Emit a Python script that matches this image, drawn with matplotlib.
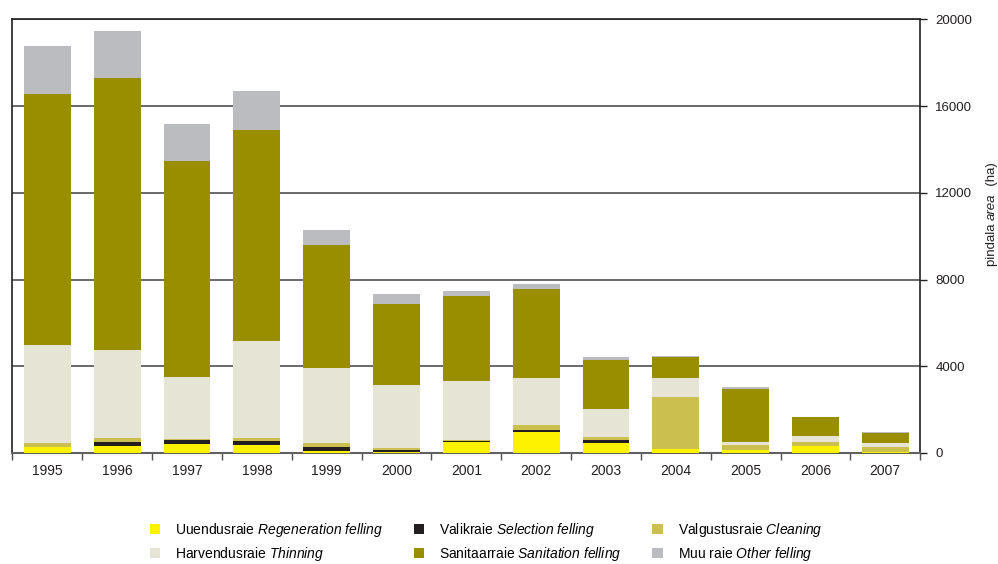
import matplotlib
matplotlib.use("Agg")
import matplotlib.pyplot as plt
from matplotlib.patches import Patch
import numpy as np

plt.rcParams["font.family"] = ["Liberation Sans", "DejaVu Sans"]
plt.rcParams["mathtext.fontset"] = "custom"
plt.rcParams["mathtext.rm"] = "Liberation Sans"
plt.rcParams["mathtext.it"] = "Liberation Sans:italic"

aastad = ["1995", "1996", "1997", "1998", "1999", "2000", "2001",
          "2002", "2003", "2004", "2005", "2006", "2007"]

# pindala (ha) raieliigi kaupa
uuendus = [250, 320, 400, 360, 80, 30, 520, 985, 460, 190, 140, 330, 30]
valik = [0, 190, 190, 185, 185, 90, 40, 90, 140, 0, 0, 0, 0]
valgustus = [200, 190, 50, 140, 185, 90, 40, 230, 125, 2400, 230, 190, 230]
harvendus = [4520, 4040, 2870, 4480, 3460, 2930, 2700, 2155, 1305, 870, 140, 260, 190]
sanitaar = [11580, 12550, 9955, 9725, 5680, 3720, 3930, 4095, 2250, 970, 2450, 880, 490]
muu = [2210, 2170, 1710, 1800, 690, 460, 230, 230, 140, 45, 90, 0, 45]

seeriad = [
    (uuendus, "#FFF200", "Uuendusraie $\\mathit{Regeneration\\ felling}$"),
    (valik, "#231F20", "Valikraie $\\mathit{Selection\\ felling}$"),
    (valgustus, "#CBBF4F", "Valgustusraie $\\mathit{Cleaning}$"),
    (harvendus, "#E6E4D5", "Harvendusraie $\\mathit{Thinning}$"),
    (sanitaar, "#998E00", "Sanitaarraie $\\mathit{Sanitation\\ felling}$"),
    (muu, "#BBBCC0", "Muu raie $\\mathit{Other\\ felling}$"),
]

fig = plt.figure(figsize=(9.98, 5.64), dpi=100)
ax = fig.add_axes([0.0125, 0.197, 0.9095, 0.7685])

x = np.arange(len(aastad))
pohi = np.zeros(len(aastad))
kasted = []
for vaartused, varv, silt in seeriad:
    ax.bar(x, vaartused, width=0.67, bottom=pohi, color=varv, zorder=3)
    pohi += np.array(vaartused)
    kasted.append(Patch(facecolor=varv, label=silt))

ax.set_xlim(-0.5, len(aastad) - 0.5)
ax.set_ylim(0, 20000)
ax.set_yticks([0, 4000, 8000, 12000, 16000, 20000])
ax.yaxis.tick_right()
ax.tick_params(axis="y", direction="out", length=5, width=1, labelsize=9.5,
               colors="#231F20", pad=6)
ax.grid(axis="y", color="#505050", linewidth=1.2, zorder=0)

ax.set_xticks(x)
ax.set_xticklabels(aastad)
ax.set_xticks(np.arange(-0.5, len(aastad)), minor=True)
ax.tick_params(axis="x", which="major", length=0, labelsize=10, pad=8,
               colors="#231F20")
ax.tick_params(axis="x", which="minor", length=5, width=1, direction="out",
               color="#505050")

for s in ["left", "right", "top"]:
    ax.spines[s].set_color("#231F20")
    ax.spines[s].set_linewidth(1.2)
ax.spines["bottom"].set_color("#606060")
ax.spines["bottom"].set_linewidth(1.5)

# y-telje pealkiri tükkidena (osa kaldkirjas), alt üles
renderer = fig.canvas.get_renderer()
tykid = [("pindala ", "normal"), ("area", "italic"), ("  (ha)", "normal")]
kokku = 0
objektid = []
for tekst, stiil in tykid:
    t = fig.text(0, 0, tekst, rotation=90, fontsize=9.5, style=stiil,
                 color="#231F20", ha="left", va="center",
                 rotation_mode="anchor")
    objektid.append(t)
    kokku += t.get_window_extent(renderer).height
y0 = 214 + kokku / 2  # pikslid ülalt
for t in objektid:
    h = t.get_window_extent(renderer).height
    t.set_position((992 / 998, 1 - y0 / 564))
    y0 -= h

# järjekord veergude kaupa
jrk = [0, 3, 1, 4, 2, 5]
fig.legend([kasted[i] for i in jrk], [kasted[i].get_label() for i in jrk],
           ncol=3, loc="upper left", bbox_to_anchor=(0.150, 0.076),
           frameon=False, fontsize=10, handlelength=0.75, handleheight=0.75,
           handletextpad=1.1, columnspacing=2.2, labelspacing=0.4,
           borderaxespad=0, borderpad=0)

fig.savefig("out.png", dpi=100)
